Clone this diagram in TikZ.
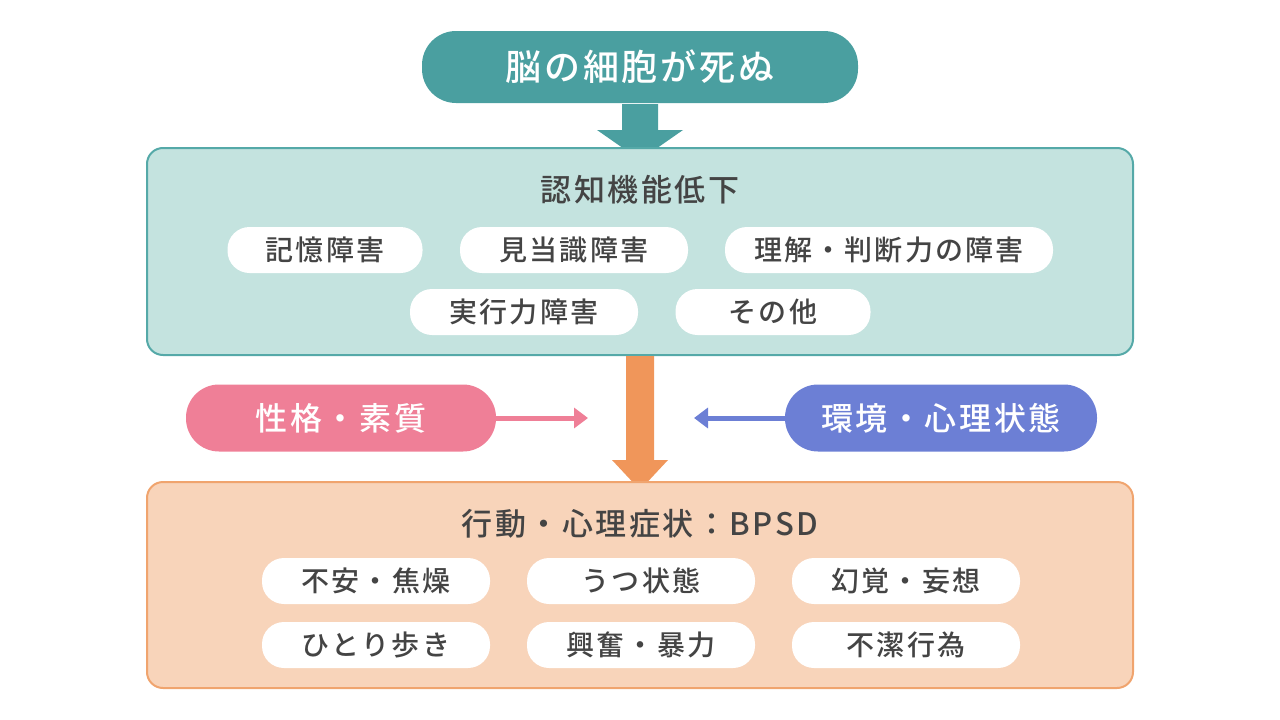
\documentclass[tikz,border=0pt]{standalone}
\usepackage{fontspec}
\setmainfont{Noto Sans CJK JP}[BoldFont={Noto Sans CJK JP Medium}]
\usetikzlibrary{arrows.meta}
\definecolor{teal1}{HTML}{4A9FA0}
\definecolor{tealbg}{HTML}{C4E3DF}
\definecolor{tealbd}{HTML}{55A9A8}
\definecolor{org}{HTML}{F0965A}
\definecolor{orgbg}{HTML}{F8D4BA}
\definecolor{orgbd}{HTML}{F0A46E}
\definecolor{pink1}{HTML}{EF7F97}
\definecolor{blue1}{HTML}{6C7FD5}
\definecolor{txt}{HTML}{444444}
\newcommand{\ls}{\addfontfeature{LetterSpace=8}}
\begin{document}
\begin{tikzpicture}[x=1pt,y=-1pt,
 pill/.style={fill=white,rounded corners=22pt,minimum height=46pt,text=txt,font=\fontsize{28}{30}\selectfont\bfseries\ls},
 big/.style={rounded corners=34pt,minimum height=72pt,text=white,font=\fontsize{36}{38}\selectfont\bfseries\ls},
 side/.style={rounded corners=33pt,minimum height=67pt,text=white,font=\fontsize{32}{34}\selectfont\bfseries\ls},
 box/.style={rounded corners=16pt,line width=2pt},
 ttl/.style={text=txt,font=\fontsize{31}{33}\selectfont\bfseries\ls}]
\useasboundingbox (0,0) rectangle (1280,720);
\node[big,fill=teal1,minimum width=436pt] (top) at (640,67) {脳の細胞が死ぬ};
\fill[teal1] (622,104) -- (658,104) -- (658,130) -- (683,130) -- (640,160) -- (597,130) -- (622,130) -- cycle;
\draw[box,draw=tealbd,fill=tealbg] (147,148) rectangle (1133,355);
\node[ttl] (t1) at (640,190) {認知機能低下};
\node[pill,minimum width=195pt] (a1) at (325,250) {記憶障害};
\node[pill,minimum width=228pt] (a2) at (574,250) {見当識障害};
\node[pill,minimum width=328pt] (a3) at (889,250) {理解・判断力の障害};
\node[pill,minimum width=228pt] (a4) at (524,312) {実行力障害};
\node[pill,minimum width=195pt] (a5) at (773,312) {その他};
\fill[org] (626,356) -- (654,356) -- (654,460) -- (668,460) -- (640,490) -- (612,460) -- (626,460) -- cycle;
\node[side,fill=pink1,minimum width=310pt] (p) at (341,418) {性格・素質};
\node[side,fill=blue1,minimum width=312pt] (b) at (941,418) {環境・心理状態};
\coordinate (pe) at (588,418);
\coordinate (be) at (694,418);
\draw[pink1,line width=5pt,-{Triangle[length=14pt,width=20pt]}] (p.east) -- (pe);
\draw[blue1,line width=5pt,-{Triangle[length=14pt,width=20pt]}] (b.west) -- (be);
\draw[box,draw=orgbd,fill=orgbg] (147,482) rectangle (1133,688);
\node[ttl] (t2) at (640,524) {行動・心理症状：BPSD};
\node[pill,minimum width=228pt] (c1) at (376,581) {不安・焦燥};
\node[pill,minimum width=228pt] (c2) at (641,581) {うつ状態};
\node[pill,minimum width=228pt] (c3) at (906,581) {幻覚・妄想};
\node[pill,minimum width=228pt] (c4) at (376,645) {ひとり歩き};
\node[pill,minimum width=228pt] (c5) at (641,645) {興奮・暴力};
\node[pill,minimum width=228pt] (c6) at (906,645) {不潔行為};
\end{tikzpicture}
\end{document}
